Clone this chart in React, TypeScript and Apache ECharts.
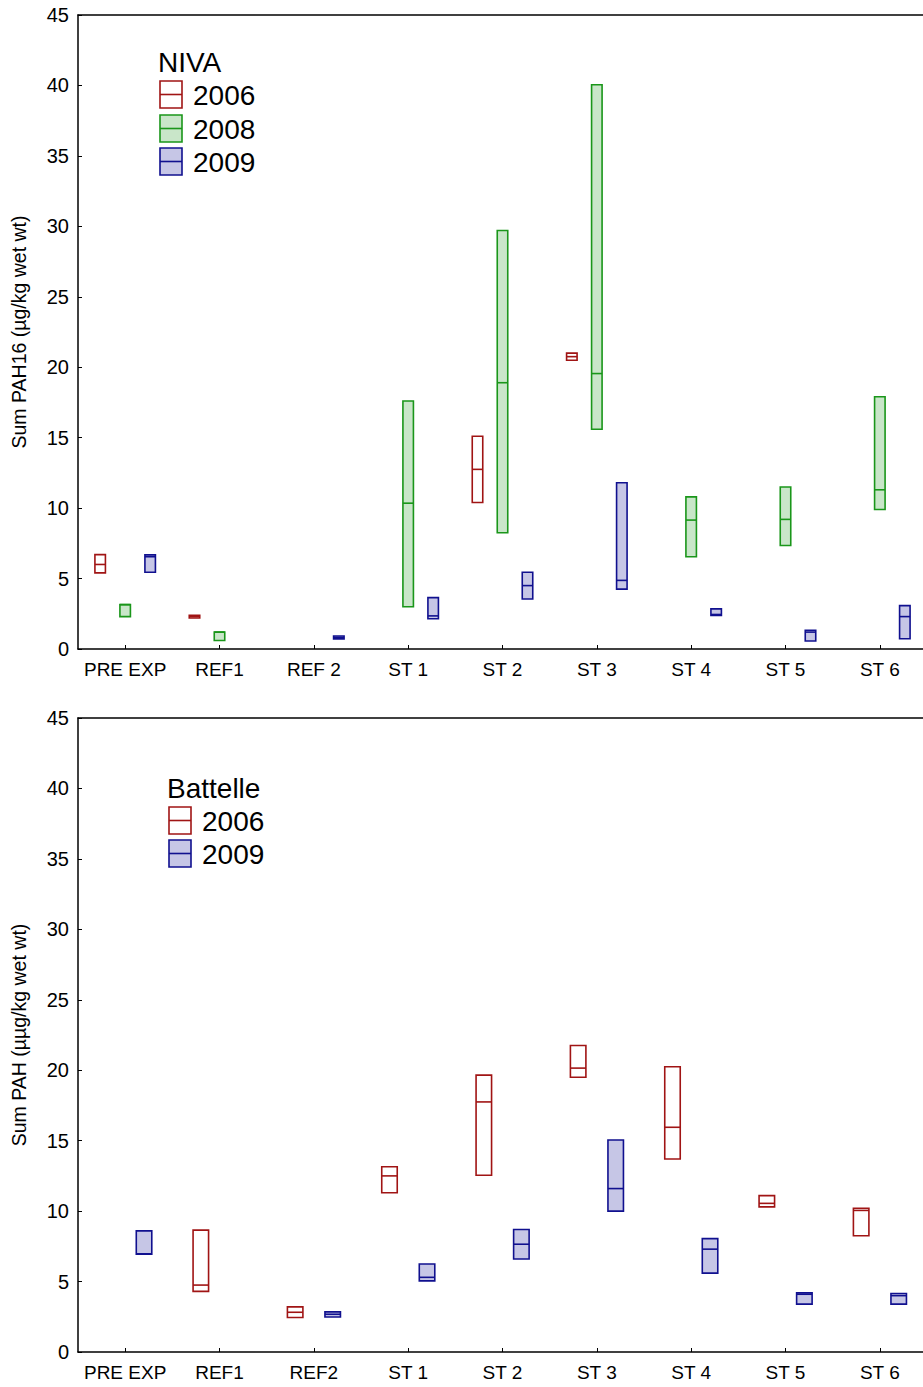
import React, { useEffect, useRef } from "react";
import * as echarts from "echarts";

// ---------- DATA ----------
const categoriesTop = ["PRE EXP", "REF1", "REF 2", "ST 1", "ST 2", "ST 3", "ST 4", "ST 5", "ST 6"];
const categoriesBottom = ["PRE EXP", "REF1", "REF2", "ST 1", "ST 2", "ST 3", "ST 4", "ST 5", "ST 6"];
const yTicks = [0, 5, 10, 15, 20, 25, 30, 35, 40, 45];

// NIVA (top) — box low / median / high per category
const niva2006Low = [5.4, 2.2, null, null, 10.4, 20.5, null, null, null];
const niva2006Median = [6.0, 2.3, null, null, 12.75, 20.75, null, null, null];
const niva2006High = [6.7, 2.4, null, null, 15.1, 21.0, null, null, null];

const niva2008Low = [2.3, 0.6, null, 3.0, 8.25, 15.6, 6.55, 7.35, 9.9];
const niva2008Median = [3.15, 1.2, null, 10.35, 18.9, 19.55, 9.15, 9.2, 11.3];
const niva2008High = [3.15, 1.2, null, 17.6, 29.7, 40.05, 10.8, 11.5, 17.9];

const niva2009Low = [5.45, null, 0.72, 2.15, 3.55, 4.25, 2.38, 0.57, 0.73];
const niva2009Median = [6.55, null, 0.82, 2.35, 4.5, 4.87, 2.45, 1.2, 2.3];
const niva2009High = [6.68, null, 0.92, 3.65, 5.45, 11.8, 2.85, 1.33, 3.08];

// Battelle (bottom)
const batt2006Low = [null, 4.3, 2.45, 11.3, 12.55, 19.5, 13.7, 10.3, 8.25];
const batt2006Median = [null, 4.75, 2.82, 12.5, 17.75, 20.15, 15.95, 10.55, 10.05];
const batt2006High = [null, 8.65, 3.2, 13.15, 19.65, 21.75, 20.25, 11.1, 10.2];

const batt2009Low = [6.95, null, 2.48, 5.05, 6.6, 10.0, 5.6, 3.4, 3.4];
const batt2009Median = [6.97, null, 2.68, 5.3, 7.65, 11.6, 7.3, 4.1, 4.0];
const batt2009High = [8.6, null, 2.85, 6.25, 8.7, 15.05, 8.05, 4.2, 4.15];

// ---------- STYLE ----------
const FONT = "Liberation Sans, Arial, sans-serif";
const RED = "#a01414";
const GREEN = "#1a961a";
const BLUE = "#10108f";
const GREEN_FILL = "#c9e6c9";
const BLUE_FILL = "#c6c6e6";

function buildData(lo: (number | null)[], med: (number | null)[], hi: (number | null)[]) {
  const out: any[] = [];
  lo.forEach((l, i) => {
    if (l != null && med[i] != null && hi[i] != null) out.push([i, l, med[i], hi[i]]);
  });
  return out;
}

function boxSeries(
  name: string,
  axisIdx: number,
  data: any[],
  offsetFrac: number,
  widthPx: number,
  stroke: string,
  fill: string
) {
  return {
    type: "custom",
    name,
    xAxisIndex: axisIdx,
    yAxisIndex: axisIdx,
    data,
    encode: { x: 0, y: [1, 2, 3] },
    renderItem: (params: any, api: any) => {
      const cat = api.value(0);
      const lo = api.value(1);
      const med = api.value(2);
      const hi = api.value(3);
      const band = api.size([1, 0])[0];
      const pLo = api.coord([cat, lo]);
      const pHi = api.coord([cat, hi]);
      const pMed = api.coord([cat, med]);
      const cx = pLo[0] + offsetFrac * band;
      const x0 = cx - widthPx / 2;
      return {
        type: "group",
        children: [
          {
            type: "rect",
            shape: { x: x0, y: pHi[1], width: widthPx, height: Math.max(pLo[1] - pHi[1], 1) },
            style: { fill, stroke, lineWidth: 1.6 },
          },
          {
            type: "line",
            shape: { x1: x0, y1: pMed[1], x2: x0 + widthPx, y2: pMed[1] },
            style: { stroke, lineWidth: 1.6 },
          },
        ],
      };
    },
  };
}

function xAxisCfg(grid: number, data: string[]) {
  return {
    type: "category",
    gridIndex: grid,
    data,
    boundaryGap: true,
    axisLine: { show: true, lineStyle: { color: "#000", width: 1.5 } },
    axisTick: { show: true, inside: true, alignWithLabel: true, length: 4, lineStyle: { color: "#000" } },
    axisLabel: { show: true, color: "#000", fontSize: 19, fontFamily: FONT, margin: 11, interval: 0 },
    splitLine: { show: false },
  };
}

function topBorderAxis(grid: number, data: string[]) {
  return {
    type: "category",
    gridIndex: grid,
    data,
    position: "top",
    axisLine: { show: true, lineStyle: { color: "#000", width: 1.5 } },
    axisTick: { show: false },
    axisLabel: { show: false },
    splitLine: { show: false },
  };
}

function yAxisCfg(grid: number, name: string) {
  return {
    type: "value",
    gridIndex: grid,
    min: yTicks[0],
    max: yTicks[yTicks.length - 1],
    interval: 5,
    name,
    nameLocation: "middle",
    nameRotate: 90,
    nameGap: 49,
    nameTextStyle: { color: "#000", fontSize: 19.5, fontFamily: FONT },
    axisLine: { show: true, lineStyle: { color: "#000", width: 1.5 } },
    axisTick: { show: true, inside: true, length: 4, lineStyle: { color: "#000" } },
    axisLabel: { color: "#000", fontSize: 20, fontFamily: FONT, margin: 9 },
    splitLine: { show: false },
  };
}

function legendIcon(x: number, y: number, stroke: string, fill: string) {
  return [
    { type: "rect", shape: { x, y, width: 22, height: 27 }, style: { fill, stroke, lineWidth: 1.6 } },
    { type: "line", shape: { x1: x, y1: y + 13.5, x2: x + 22, y2: y + 13.5 }, style: { stroke, lineWidth: 1.6 } },
  ];
}

function legendText(x: number, yc: number, text: string) {
  return {
    type: "text",
    x,
    y: yc,
    style: { text, fill: "#000", fontSize: 28, fontFamily: FONT, textVerticalAlign: "middle", verticalAlign: "middle" },
  };
}

export default function App() {
  const ref = useRef<HTMLDivElement>(null);
  useEffect(() => {
    if (!ref.current) return;
    const chart = echarts.init(ref.current, undefined, { renderer: "svg" });
    const option: any = {
      animation: false,
      backgroundColor: "#fff",
      grid: [
        { left: 78, top: 15, width: 849, height: 634 },
        { left: 78, top: 718, width: 849, height: 634 },
      ],
      xAxis: [
        xAxisCfg(0, categoriesTop),
        xAxisCfg(1, categoriesBottom),
        topBorderAxis(0, categoriesTop),
        topBorderAxis(1, categoriesBottom),
      ],
      yAxis: [yAxisCfg(0, "Sum PAH16 (µg/kg wet wt)"), yAxisCfg(1, "Sum PAH (µµg/kg wet wt)")],
      series: [
        boxSeries("NIVA 2006", 0, buildData(niva2006Low, niva2006Median, niva2006High), -0.265, 10.5, RED, "#fff"),
        boxSeries("NIVA 2008", 0, buildData(niva2008Low, niva2008Median, niva2008High), 0, 10.5, GREEN, GREEN_FILL),
        boxSeries("NIVA 2009", 0, buildData(niva2009Low, niva2009Median, niva2009High), 0.265, 10.5, BLUE, BLUE_FILL),
        boxSeries("Battelle 2006", 1, buildData(batt2006Low, batt2006Median, batt2006High), -0.198, 15.5, RED, "#fff"),
        boxSeries("Battelle 2009", 1, buildData(batt2009Low, batt2009Median, batt2009High), 0.2, 15.5, BLUE, BLUE_FILL),
      ],
      graphic: [
        legendText(158, 62, "NIVA"),
        ...legendIcon(160, 81, RED, "#fff"),
        legendText(193, 95, "2006"),
        ...legendIcon(160, 115, GREEN, GREEN_FILL),
        legendText(193, 129, "2008"),
        ...legendIcon(160, 148, BLUE, BLUE_FILL),
        legendText(193, 162, "2009"),
        legendText(167, 788, "Battelle"),
        ...legendIcon(169, 807, RED, "#fff"),
        legendText(202, 821, "2006"),
        ...legendIcon(169, 840, BLUE, BLUE_FILL),
        legendText(202, 854, "2009"),
      ],
    };
    chart.setOption(option);
    return () => chart.dispose();
  }, []);
  return (
    <div
      style={{ position: "absolute", left: 0, top: 0, width: 923, height: 1387, overflow: "hidden", background: "#fff" }}
    >
      <div ref={ref} style={{ width: 935, height: 1387 }} />
    </div>
  );
}
